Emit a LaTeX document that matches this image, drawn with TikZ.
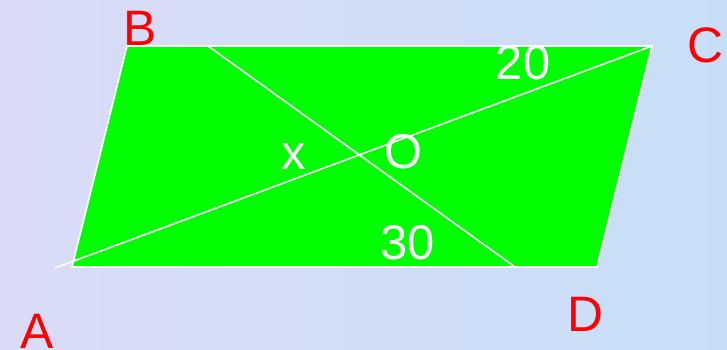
\documentclass[tikz,border=0pt]{standalone}
\usepackage{fontspec}
\setmainfont{Liberation Sans}
\usetikzlibrary{positioning}

\begin{document}
\begin{tikzpicture}[
        x=1bp, y=-1bp,
        vertexlabel/.style={text=red, inner sep=0pt, font=\fontsize{50}{50}\selectfont},
        valuelabel/.style={text=white, inner sep=0pt, font=\fontsize{49}{49}\selectfont},
        whiteline/.style={draw=white, line width=1.6bp}
        ]

        % Background
        \useasboundingbox (0,0) rectangle (727,349);
        \shade[left color={rgb,255:red,218;green,220;blue,246}, right color={rgb,255:red,200;green,222;blue,248}] (0,0) rectangle (727,349);

        % Corners of the parallelogram
        \coordinate (A) at (72,267);
        \coordinate (B) at (127,46);
        \coordinate (C) at (652,46);
        \coordinate (D) at (597,267);
        \coordinate (Aout) at (55,268);
        \coordinate (E) at (208,46);
        \coordinate (F) at (515,267);

        % Green face
        \filldraw[fill={rgb,255:red,0;green,255;blue,0}, whiteline] (A) -- (B) -- (C) -- (D) -- cycle;

        % Crossing lines
        \draw[whiteline] (Aout) -- (C);
        \draw[whiteline] (E) -- (F);

        % Labels
        \node[vertexlabel] (labA) at (37,331) {A};
        \node[vertexlabel] (labB) at (140,28) {B};
        \node[vertexlabel] (labC) at (705,45) {C};
        \node[vertexlabel] (labD) at (585,314) {D};
        \node[valuelabel] (labO) at (403,152) {O};
        \node[valuelabel] (labx) at (294,157) {x};
        \node[valuelabel] (lab20) at (523,63) {20};
        \node[valuelabel] (lab30) at (408,243) {30};

    \end{tikzpicture}
\end{document}
